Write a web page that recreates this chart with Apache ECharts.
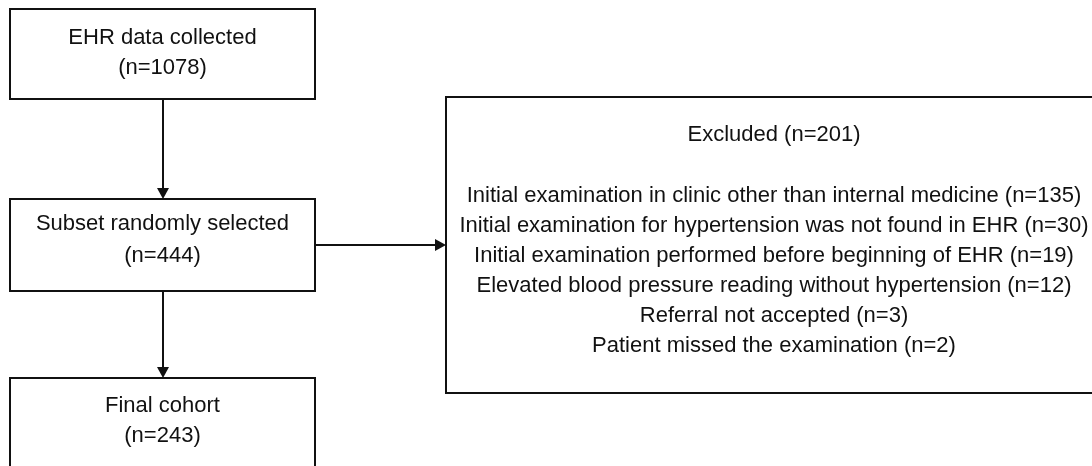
<!DOCTYPE html>
<html>
<head>
<meta charset="utf-8">
<title>Cohort flowchart</title>
<script src="https://cdn.jsdelivr.net/npm/echarts@6/dist/echarts.min.js"></script>
<style>
  html, body { margin: 0; padding: 0; background: #fff; }
  #main { width: 1092px; height: 466px; }
</style>
</head>
<body>
<div id="main"></div>
<script>
// flow steps (main column)
const stepLabels = ['EHR data collected', 'Subset randomly selected', 'Final cohort'];
const stepCounts = [1078, 444, 243];

// exclusion box
const excludedTotal = 201;
const excludedReasons = [
  'Initial examination in clinic other than internal medicine',
  'Initial examination for hypertension was not found in EHR',
  'Initial examination performed before beginning of EHR',
  'Elevated blood pressure reading without hypertension',
  'Referral not accepted',
  'Patient missed the examination'
];
const excludedCounts = [135, 30, 19, 12, 3, 2];

var chartDom = document.getElementById('main');
var myChart = echarts.init(chartDom);
var option;

var FONT = '"Liberation Sans", Arial, sans-serif';
var INK = '#111';

// box layout: [x0, y0, x1, y1] and text line y's
var stepBoxes = [
  { x0: 10, y0: 9, x1: 315, y1: 99, ty: [38, 68] },
  { x0: 10, y0: 199, x1: 315, y1: 291, ty: [224, 256] },
  { x0: 10, y0: 378, x1: 315, y1: 472, ty: [406, 436] }
];
var exBox = { x0: 446, y0: 97, x1: 1100, y1: 393, cx: 774, titleY: 135, firstY: 196, gap: 30 };

function box(b) {
  return {
    type: 'rect',
    shape: { x: b.x0, y: b.y0, width: b.x1 - b.x0, height: b.y1 - b.y0 },
    style: { fill: '#fff', stroke: INK, lineWidth: 2 }
  };
}
function label(text, x, y, size) {
  return {
    type: 'text',
    x: x, y: y,
    style: {
      text: text, fill: INK, font: size + 'px ' + FONT,
      align: 'center', verticalAlign: 'middle'
    }
  };
}
function arrow(x1, y1, x2, y2) {
  var horiz = y1 === y2;
  var head = horiz
    ? [[x2, y2], [x2 - 11, y2 - 6], [x2 - 11, y2 + 6]]
    : [[x2, y2], [x2 - 6, y2 - 11], [x2 + 6, y2 - 11]];
  return [
    { type: 'line', shape: { x1: x1, y1: y1, x2: horiz ? x2 - 4 : x2, y2: horiz ? y2 : y2 - 4 },
      style: { stroke: INK, lineWidth: 2 } },
    { type: 'polygon', shape: { points: head }, style: { fill: INK } }
  ];
}

var elements = [];
stepBoxes.forEach(function (b, i) {
  var cx = (b.x0 + b.x1) / 2;
  elements.push(box(b));
  elements.push(label(stepLabels[i], cx, b.ty[0], 22));
  elements.push(label('(n=' + stepCounts[i] + ')', cx, b.ty[1], 22));
});

elements.push(box(exBox));
elements.push(label('Excluded (n=' + excludedTotal + ')', exBox.cx, exBox.titleY, 22));
excludedReasons.forEach(function (r, i) {
  elements.push(label(r + ' (n=' + excludedCounts[i] + ')', exBox.cx, exBox.firstY + i * exBox.gap, 22));
});

var colX = 163;
elements = elements
  .concat(arrow(colX, stepBoxes[0].y1, colX, stepBoxes[1].y0))
  .concat(arrow(colX, stepBoxes[1].y1, colX, stepBoxes[2].y0))
  .concat(arrow(stepBoxes[1].x1, 245, exBox.x0, 245));

option = {
  backgroundColor: '#fff',
  animation: false,
  graphic: { elements: elements }
};

option && myChart.setOption(option);
</script>
</body>
</html>
